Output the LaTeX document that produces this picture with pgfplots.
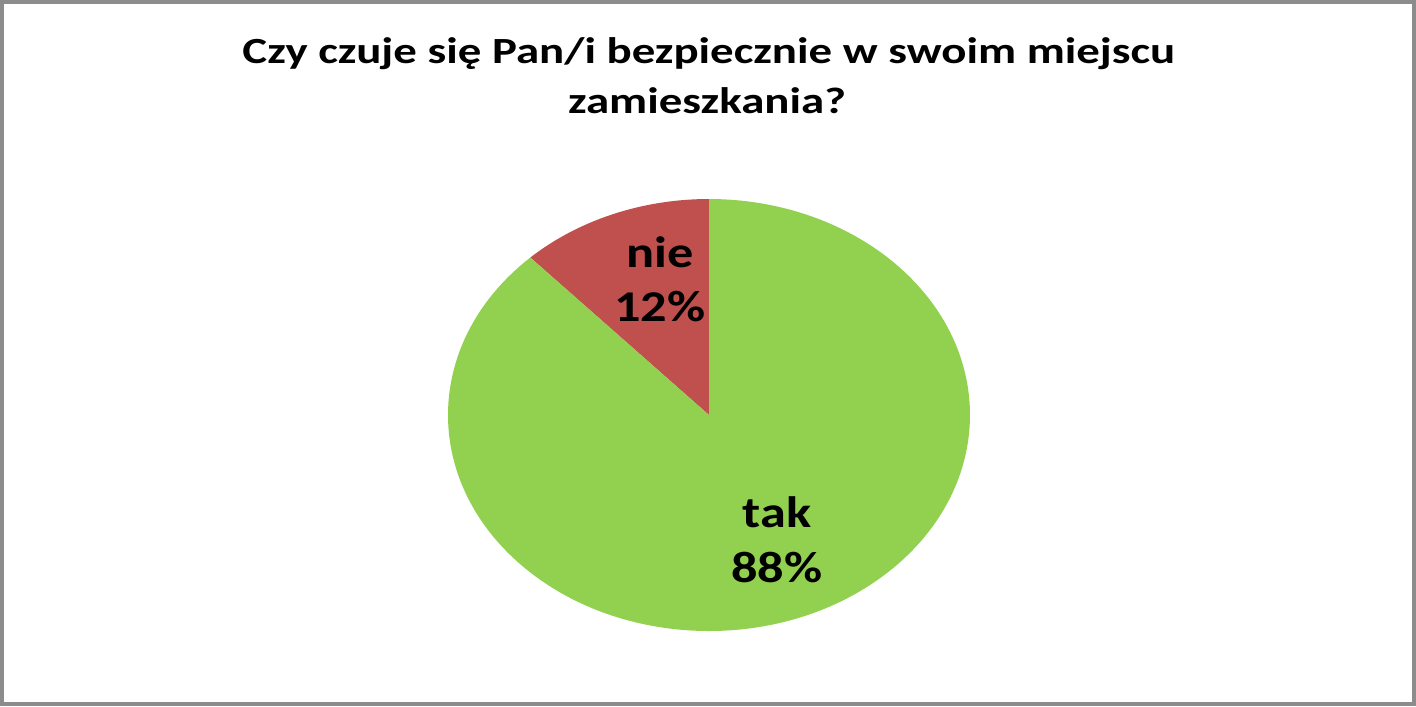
\documentclass[border=0pt]{standalone}
\usepackage{pgfplots}
\pgfplotsset{compat=1.18}
\usepackage{pgfplotstable}
\usepackage{fontspec}
\setmainfont{Carlito}
\definecolor{takgreen}{HTML}{92D050}
\definecolor{niered}{HTML}{C0504D}
\definecolor{framegray}{HTML}{8C8C8C}
\pgfplotstableread{
label value
tak 88
nie 12
}\piedata
\begin{document}
\begin{tikzpicture}
\pgfplotstablegetelem{0}{value}\of\piedata \let\takval\pgfplotsretval
\pgfplotstablegetelem{1}{value}\of\piedata \let\nieval\pgfplotsretval
\pgfmathsetmacro\angnie{90+3.6*\nieval}
\pgfmathsetmacro\angend{\angnie+3.6*\takval}
\pgfmathsetmacro\sx{2.61*cos(\angnie)}
\pgfmathsetmacro\sy{2.16*sin(\angnie)}
\begin{axis}[
  width=14.16cm, height=7.06cm, scale only axis,
  xmin=0, xmax=1416, ymin=0, ymax=706, y dir=reverse,
  hide axis, clip=false,
]
\addplot[draw=none] coordinates {(0,0) (1416,706)};
\fill[white] (axis cs:0,0) rectangle (axis cs:1416,706);
% nie wedge
\fill[niered] (axis cs:709,415) -- ++(0cm,2.16cm)
  arc[start angle=90, end angle=\angnie, x radius=2.61cm, y radius=2.16cm] -- cycle;
% tak wedge
\fill[takgreen] (axis cs:709,415) -- ++(\sx cm,\sy cm)
  arc[start angle=\angnie, end angle=\angend, x radius=2.61cm, y radius=2.16cm] -- cycle;
% frame
\draw[framegray, line width=0.04cm] (axis cs:2,2) rectangle (axis cs:1414,704);
% title
\node[anchor=base, xscale=1.27, font=\fontsize{10.5pt}{12pt}\selectfont\bfseries] at (axis cs:709,63) {Czy czuje się Pan/i bezpiecznie w swoim miejscu};
\node[anchor=base, xscale=1.27, font=\fontsize{10.5pt}{12pt}\selectfont\bfseries] at (axis cs:707,113) {zamieszkania?};
% labels
\node[anchor=base, xscale=1.19, font=\fontsize{12.5pt}{14pt}\selectfont\bfseries] at (axis cs:660,267) {nie};
\node[anchor=base, xscale=1.19, font=\fontsize{12.5pt}{14pt}\selectfont\bfseries] at (axis cs:660,321) {12\%};
\node[anchor=base, xscale=1.19, font=\fontsize{12.5pt}{14pt}\selectfont\bfseries] at (axis cs:777,527) {tak};
\node[anchor=base, xscale=1.19, font=\fontsize{12.5pt}{14pt}\selectfont\bfseries] at (axis cs:777,582) {88\%};
\end{axis}
\end{tikzpicture}
\end{document}
